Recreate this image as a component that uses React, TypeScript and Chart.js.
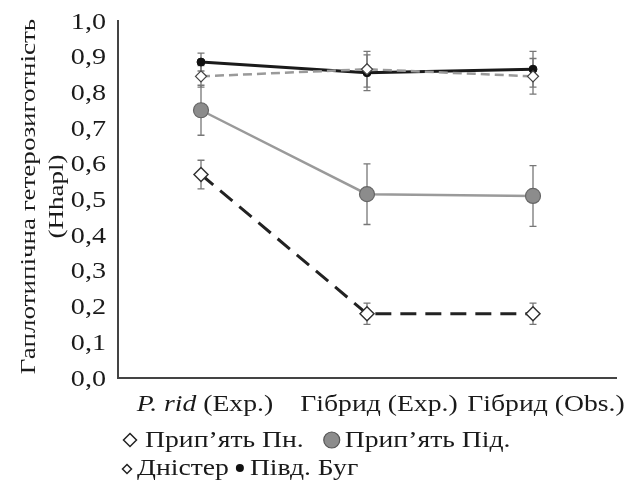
import React, { useEffect, useRef } from "react";
import { Chart, registerables } from "chart.js";

Chart.register(...registerables);

const categories = ["P. rid (Exp.)", "Гібрид (Exp.)", "Гібрид (Obs.)"];
const yTicks = [0, 0.1, 0.2, 0.3, 0.4, 0.5, 0.6, 0.7, 0.8, 0.9, 1.0];
const yTitle = ["Гаплотипічна гетерозиготність", "(Hhapl)"];

const seriesNames = ["Прип’ять Пн.", "Прип’ять Під.", "Дністер", "Півд. Буг"];
const pripNorth = [0.57, 0.18, 0.18];
const pripNorthErr = [0.04, 0.03, 0.03];
const pripSouth = [0.75, 0.515, 0.51];
const pripSouthErr = [0.07, 0.085, 0.085];
const dnister = [0.845, 0.865, 0.845];
const dnisterErr = [0.03, 0.05, 0.05];
const bug = [0.885, 0.855, 0.865];
const bugErr = [0.025, 0.05, 0.05];

const FONT = "'Liberation Serif', 'Times New Roman', serif";
const TEXT = "#1a1a1a";

function stretchText(
  ctx: CanvasRenderingContext2D,
  text: string,
  x: number,
  y: number,
  size: number,
  sx: number,
  align: CanvasTextAlign,
  italic = false,
  baseline: CanvasTextBaseline = "alphabetic"
) {
  ctx.save();
  ctx.translate(x, y);
  ctx.scale(sx, 1);
  ctx.font = `${italic ? "italic " : ""}${size}px ${FONT}`;
  ctx.textAlign = align;
  ctx.textBaseline = baseline;
  ctx.fillStyle = TEXT;
  ctx.fillText(text, 0, 0);
  ctx.restore();
}

function textW(ctx: CanvasRenderingContext2D, text: string, size: number, sx: number, italic = false) {
  ctx.save();
  ctx.font = `${italic ? "italic " : ""}${size}px ${FONT}`;
  const w = ctx.measureText(text).width * sx;
  ctx.restore();
  return w;
}

export default function App() {
  const ref = useRef<HTMLCanvasElement | null>(null);

  useEffect(() => {
    document.body.style.margin = "0";
    const canvas = ref.current;
    if (!canvas) return;

    const errs = [pripNorthErr, pripSouthErr, dnisterErr, bugErr];

    const errorBars = {
      id: "errorBars",
      beforeDatasetsDraw(chart: any) {
        const ctx = chart.ctx;
        const x = chart.scales.x;
        const y = chart.scales.y;
        ctx.save();
        chart.data.datasets.forEach((ds: any, di: number) => {
          const e = errs[di];
          ds.data.forEach((v: number, i: number) => {
            const px = x.getPixelForValue(i);
            const top = y.getPixelForValue(v + e[i]);
            const bot = y.getPixelForValue(v - e[i]);
            ctx.strokeStyle = "#777";
            ctx.lineWidth = 1.3;
            ctx.beginPath();
            ctx.moveTo(px, top);
            ctx.lineTo(px, bot);
            ctx.moveTo(px - 3.5, top);
            ctx.lineTo(px + 3.5, top);
            ctx.moveTo(px - 3.5, bot);
            ctx.lineTo(px + 3.5, bot);
            ctx.stroke();
          });
        });
        ctx.restore();
      },
    };

    const drawDiamond = (ctx: any, cx: number, cy: number, r: number) => {
      ctx.save();
      ctx.beginPath();
      ctx.moveTo(cx, cy - r);
      ctx.lineTo(cx + r, cy);
      ctx.lineTo(cx, cy + r);
      ctx.lineTo(cx - r, cy);
      ctx.closePath();
      ctx.fillStyle = "#fff";
      ctx.fill();
      ctx.strokeStyle = "#222";
      ctx.lineWidth = 1.5;
      ctx.stroke();
      ctx.restore();
    };

    const drawDot = (ctx: any, cx: number, cy: number, r: number, fill: string, stroke: string | null) => {
      ctx.save();
      ctx.beginPath();
      ctx.arc(cx, cy, r, 0, Math.PI * 2);
      ctx.fillStyle = fill;
      ctx.fill();
      if (stroke) {
        ctx.strokeStyle = stroke;
        ctx.lineWidth = 1.2;
        ctx.stroke();
      }
      ctx.restore();
    };

    const texts = {
      id: "texts",
      afterDraw(chart: any) {
        const ctx = chart.ctx as CanvasRenderingContext2D;
        const x = chart.scales.x;
        const y = chart.scales.y;
        const area = chart.chartArea;

        // y tick labels
        yTicks.forEach((v) => {
          const py = y.getPixelForValue(v);
          stretchText(ctx, v.toFixed(1).replace(".", ","), area.left - 12, py + 7.5, 22.5, 1.25, "right");
        });

        // y title (rotated, two lines)
        const cy = (area.top + area.bottom) / 2 - 3;
        const titleX = [29, 57];
        yTitle.forEach((line, i) => {
          ctx.save();
          ctx.translate(titleX[i], cy);
          ctx.rotate(-Math.PI / 2);
          ctx.scale(1.23, 1);
          ctx.font = `22px ${FONT}`;
          ctx.textAlign = "center";
          ctx.textBaseline = "middle";
          ctx.fillStyle = TEXT;
          ctx.fillText(line, 0, 0);
          ctx.restore();
        });

        const gs = 22.5;
        const gx = 1.23;

        // x labels
        const baseY = 411;
        const shifts = [4, 12, 13];
        categories.forEach((c, i) => {
          const px = x.getPixelForValue(i) + shifts[i];
          if (c.startsWith("P. rid")) {
            const it = "P. rid";
            const rest = c.slice(it.length);
            const w1 = textW(ctx, it, gs, gx, true);
            const w2 = textW(ctx, rest, gs, gx);
            const start = px - (w1 + w2) / 2;
            stretchText(ctx, it, start, baseY, gs, gx, "left", true);
            stretchText(ctx, rest, start + w1, baseY, gs, gx, "left");
          } else {
            stretchText(ctx, c, px, baseY, gs, gx, "center");
          }
        });

        // legend (two rows)
        const r1 = 447;
        const r2 = 475;
        let cx = 130;
        drawDiamond(ctx, cx, 440, 6.5);
        let tx = 145;
        stretchText(ctx, seriesNames[0], tx, r1, gs, gx, "left");
        tx += textW(ctx, seriesNames[0], gs, gx);
        cx = tx + 28;
        drawDot(ctx, cx, 440, 8, "#8c8c8c", "#555");
        tx = cx + 13;
        stretchText(ctx, seriesNames[1], tx, r1, gs, gx, "left");

        cx = 127;
        drawDiamond(ctx, cx, 469, 4.5);
        tx = 137;
        stretchText(ctx, seriesNames[2], tx, r2, gs, gx, "left");
        tx += textW(ctx, seriesNames[2], gs, gx);
        cx = tx + 11;
        drawDot(ctx, cx, 468, 4, "#111", null);
        tx = cx + 10;
        stretchText(ctx, seriesNames[3], tx, r2, gs, gx, "left");
      },
    };

    const chart = new Chart(canvas, {
      type: "line",
      data: {
        labels: categories,
        datasets: [
          {
            label: seriesNames[0],
            data: pripNorth,
            borderColor: "#222",
            borderWidth: 3,
            borderDash: [16, 9],
            pointStyle: "rectRot",
            pointRadius: 7,
            pointBackgroundColor: "#fff",
            pointBorderColor: "#333",
            pointBorderWidth: 1.5,
          },
          {
            label: seriesNames[1],
            data: pripSouth,
            borderColor: "#9a9a9a",
            borderWidth: 2.5,
            pointStyle: "circle",
            pointRadius: 7.5,
            pointBackgroundColor: "#8c8c8c",
            pointBorderColor: "#666",
            pointBorderWidth: 1.2,
          },
          {
            label: seriesNames[2],
            data: dnister,
            borderColor: "#9a9a9a",
            borderWidth: 2.5,
            borderDash: [9, 5],
            pointStyle: "rectRot",
            pointRadius: 5.5,
            pointBackgroundColor: "#fff",
            pointBorderColor: "#444",
            pointBorderWidth: 1.3,
          },
          {
            label: seriesNames[3],
            data: bug,
            borderColor: "#1a1a1a",
            borderWidth: 3,
            pointStyle: "circle",
            pointRadius: 4,
            pointBackgroundColor: "#111",
            pointBorderColor: "#111",
            pointBorderWidth: 1,
          },
        ],
      },
      options: {
        animation: false,
        responsive: true,
        maintainAspectRatio: false,
        layout: { padding: { top: 21, right: 13, bottom: 116, left: 0 } },
        plugins: {
          legend: { display: false },
          tooltip: { enabled: false },
        },
        scales: {
          x: {
            type: "category",
            offset: true,
            grid: { display: false, drawTicks: false },
            border: { display: true, color: "#444", width: 2 },
            ticks: { display: false },
            afterFit: (s: any) => {
              s.height = 0;
            },
          },
          y: {
            min: 0,
            max: 1,
            grid: { display: false, drawTicks: false },
            border: { display: true, color: "#444", width: 2 },
            ticks: { display: false, stepSize: 0.1 },
            afterFit: (s: any) => {
              s.width = 118;
            },
          },
        },
      },
      plugins: [errorBars, texts],
    });

    return () => chart.destroy();
  }, []);

  return (
    <div style={{ position: "relative", width: 629, height: 494 }}>
      <canvas ref={ref} />
    </div>
  );
}
